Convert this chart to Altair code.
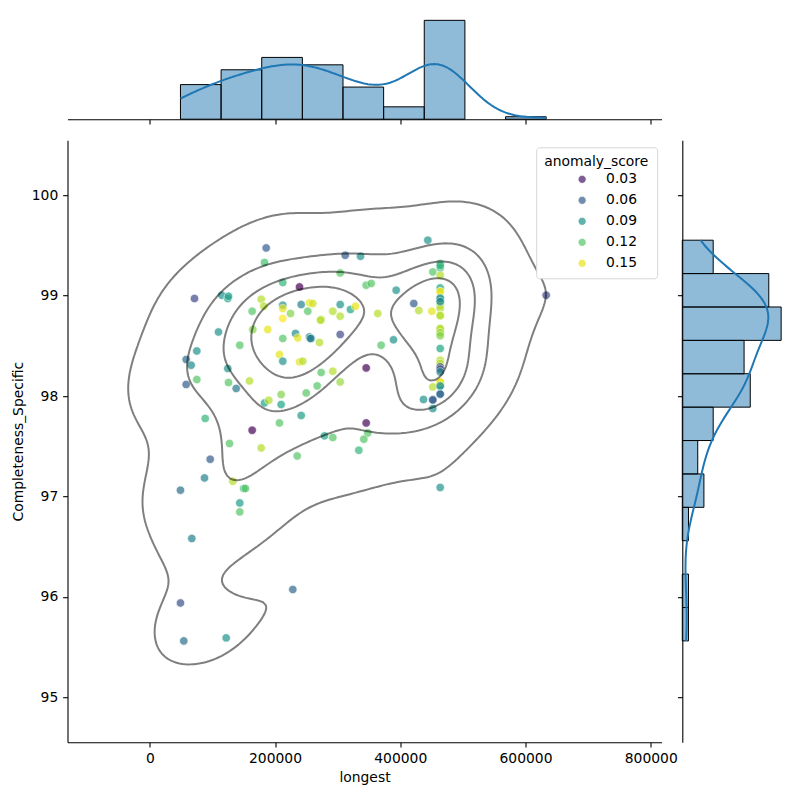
import numpy as np
import pandas as pd
import altair as alt

# ---- data -------------------------------------------------------------
longest = [
    71400, 109700, 75100, 58100, 66100, 75100, 58100, 88500, 96500, 87400, 49000, 67100, 49000, 54300,
    115000, 124600, 177900, 163500, 164500, 143700, 124600, 125700, 138000, 159200, 163500, 127300,
    177900, 132600, 150100, 152800, 143700, 143700, 122000, 125700,
    185900, 183200, 212400, 239100, 182100, 212400, 212400, 241800, 224700, 212400, 188400, 232700,
    236400, 212400, 207100, 212400, 239100, 183200, 190000, 209800, 209800, 241800, 207100, 235400, 228400,
    304100, 255000, 260300, 304100, 252300, 292300, 304100, 273700, 255000, 257800, 304100, 271000,
    244300, 273700, 292300, 304100, 249800, 267300, 279000, 292300, 256600, 272600,
    312100, 336500, 345600, 353600, 320500, 328500, 364100, 369500, 345600, 345600, 348100, 341800, 333800,
    393500, 421600, 429600, 389200, 437100,
    444000, 452000,
    463800, 463800, 463800, 463800, 463800, 463800, 463800, 463800, 463800, 463800, 463800,
    463800, 463800, 463800, 463800, 463800, 463800, 463800, 463800, 463800, 463800, 463800,
    450400, 452000, 452000, 452000,
    463800, 463800, 463800, 463800, 463800, 463800, 463800, 463800, 463800, 463800, 463800, 452000,
    633000,
]

completeness_specific = [
    98.971, 98.638, 98.449, 98.364, 98.307, 98.164, 98.115, 97.776, 97.370, 97.184, 97.062, 96.581, 95.939, 95.561,
    99.004, 98.971, 98.964, 98.845, 98.662, 98.506, 98.274, 98.134, 98.075, 98.150, 97.659, 97.527,
    97.483, 97.151, 97.079, 97.079, 96.935, 96.846, 95.591, 98.994,
    99.475, 99.330, 99.130, 99.087, 98.895, 98.904, 98.872, 98.911, 98.822, 98.772, 98.662, 98.623,
    98.579, 98.573, 98.413, 98.347, 98.340, 97.931, 97.958, 98.015, 97.915, 97.806, 97.732, 97.403, 96.073,
    99.226, 98.927, 98.921, 98.911, 98.845, 98.845, 98.795, 98.762, 98.589, 98.573, 98.613, 98.533,
    98.347, 98.234, 98.247, 98.140, 98.031, 98.101, 97.603, 97.587, 98.573, 98.755,
    99.402, 99.392, 99.104, 99.121, 98.862, 98.894, 98.822, 98.506, 98.280, 97.732, 97.632, 97.570, 97.460,
    99.054, 98.921, 98.852, 98.560, 97.965,
    99.552, 99.236,
    99.320, 99.276, 99.203, 99.077, 99.037, 98.971, 98.944, 98.904, 98.872, 98.805, 98.672,
    98.632, 98.473, 98.357, 98.324, 98.290, 98.267, 98.240, 98.140, 98.101, 98.018, 97.089,
    98.845, 98.091, 97.965, 97.875,
    99.300, 99.040, 98.975, 98.940, 98.800, 98.670, 98.630, 98.600, 98.140, 98.100, 98.020, 97.960,
    99.004,
]

anomaly_score = [
    0.050, 0.090, 0.090, 0.070, 0.085, 0.120, 0.060, 0.110, 0.060, 0.080, 0.070, 0.080, 0.055, 0.070,
    0.090, 0.100, 0.140, 0.120, 0.130, 0.120, 0.090, 0.120, 0.075, 0.140, 0.022, 0.120,
    0.140, 0.140, 0.110, 0.120, 0.095, 0.120, 0.090, 0.095,
    0.060, 0.115, 0.110, 0.021, 0.140, 0.090, 0.150, 0.080, 0.130, 0.155, 0.150, 0.085,
    0.150, 0.120, 0.150, 0.090, 0.150, 0.100, 0.140, 0.130, 0.100, 0.095, 0.120, 0.120, 0.065,
    0.120, 0.150, 0.145, 0.090, 0.120, 0.140, 0.140, 0.140, 0.080, 0.075, 0.050, 0.140,
    0.140, 0.120, 0.140, 0.135, 0.120, 0.120, 0.100, 0.120, 0.080, 0.140,
    0.060, 0.090, 0.120, 0.120, 0.100, 0.150, 0.140, 0.120, 0.022, 0.023, 0.120, 0.120, 0.110,
    0.090, 0.060, 0.140, 0.090, 0.090,
    0.090, 0.120,
    0.110, 0.110, 0.140, 0.100, 0.150, 0.090, 0.085, 0.140, 0.140, 0.140, 0.140,
    0.135, 0.100, 0.140, 0.140, 0.050, 0.055, 0.080, 0.150, 0.090, 0.065, 0.090,
    0.150, 0.140, 0.060, 0.090,
    0.110, 0.150, 0.090, 0.085, 0.140, 0.140, 0.135, 0.130, 0.150, 0.090, 0.065, 0.060,
    0.050,
]

x_ticks = [0, 200000, 400000, 600000, 800000]
y_ticks = [95, 96, 97, 98, 99, 100]
legend_values = [0.03, 0.06, 0.09, 0.12, 0.15]

# ---- layout constants -------------------------------------------------
W, H = 594, 602          # joint panel
M = 103.8                # marginal panel thickness
GAP = 20.8
X_DOMAIN = [-131400, 817200]
Y_DOMAIN = [94.552, 100.548]
FS = 13.9
BLUE = "#1f77b4"
# legend marker: unit circle drawn a little to the right of the entry origin
LEGEND_MARKER = "M 5.75 0 A 1 1 0 1 1 3.75 0 A 1 1 0 1 1 5.75 0 Z"

xs = np.asarray(longest, float)
ys = np.asarray(completeness_specific, float)
hs = np.asarray(anomaly_score, float)
n = xs.size

# ---- bivariate KDE (Scott bandwidth) and iso-proportion contours ------
factor = n ** (-1.0 / 6.0)
cov = np.cov(np.vstack([xs, ys])) * factor ** 2
inv = np.linalg.inv(cov)
bw = np.sqrt(np.diag(cov))
gx = np.linspace(xs.min() - 3 * bw[0], xs.max() + 3 * bw[0], 200)
gy = np.linspace(ys.min() - 3 * bw[1], ys.max() + 3 * bw[1], 200)
GX, GY = np.meshgrid(gx, gy)
Z = np.zeros_like(GX)
for px, py in zip(xs, ys):
    dx = GX - px
    dy = GY - py
    Z += np.exp(-0.5 * (inv[0, 0] * dx * dx + 2 * inv[0, 1] * dx * dy + inv[1, 1] * dy * dy))

props = np.linspace(0.05, 1, 5)
sorted_vals = np.sort(Z.ravel())[::-1]
cum = np.cumsum(sorted_vals) / sorted_vals.sum()
idx = np.clip(np.searchsorted(cum, 1 - props), 0, sorted_vals.size - 1)
levels = sorted_vals[idx][:-1]


def contour_chains(level):
    above = Z > level
    pts, adj = {}, {}

    def point(key):
        if key in pts:
            return
        kind, j, i = key
        if kind == "h":
            a, b = Z[j, i], Z[j, i + 1]
            t = (level - a) / (b - a)
            pts[key] = (gx[i] + t * (gx[i + 1] - gx[i]), gy[j])
        else:
            a, b = Z[j, i], Z[j + 1, i]
            t = (level - a) / (b - a)
            pts[key] = (gx[i], gy[j] + t * (gy[j + 1] - gy[j]))

    s = above[:-1, :-1].astype(int) + above[:-1, 1:] + above[1:, 1:] + above[1:, :-1]
    for j, i in np.argwhere((s > 0) & (s < 4)):
        c = [above[j, i], above[j, i + 1], above[j + 1, i + 1], above[j + 1, i]]
        edges = [("h", j, i), ("v", j, i + 1), ("h", j + 1, i), ("v", j, i)]
        cross = [edges[k] for k in range(4) if c[k] != c[(k + 1) % 4]]
        if len(cross) == 2:
            pairs = [(cross[0], cross[1])]
        else:
            centre = (Z[j, i] + Z[j, i + 1] + Z[j + 1, i + 1] + Z[j + 1, i]) / 4 > level
            if centre == c[0]:
                pairs = [(edges[0], edges[1]), (edges[2], edges[3])]
            else:
                pairs = [(edges[3], edges[0]), (edges[1], edges[2])]
        for a, b in pairs:
            point(a)
            point(b)
            adj.setdefault(a, []).append(b)
            adj.setdefault(b, []).append(a)

    seen, chains = set(), []

    def walk(start):
        chain, cur = [start], start
        seen.add(start)
        while True:
            nxt = [q for q in adj[cur] if q not in seen]
            if not nxt:
                if len(chain) > 2 and start in adj[cur]:
                    chain.append(start)
                break
            cur = nxt[0]
            chain.append(cur)
            seen.add(cur)
        return [pts[k] for k in chain]

    for k, v in adj.items():
        if len(v) == 1 and k not in seen:
            chains.append(walk(k))
    for k in adj:
        if k not in seen:
            chains.append(walk(k))
    return chains


rows = []
for li, lev in enumerate(levels):
    for ci, chain in enumerate(contour_chains(lev)):
        for k, (cx, cy) in enumerate(chain):
            rows.append({"longest": cx, "Completeness_Specific": cy, "k": k, "lid": f"{li}_{ci}"})
contours = pd.DataFrame(rows)

# ---- marginal histograms and KDE curves -------------------------------
def kde1d(v, grid):
    var = np.var(v, ddof=1) * (v.size ** (-0.2)) ** 2
    d = grid[:, None] - v[None, :]
    return np.exp(-0.5 * d * d / var).sum(1) / (v.size * np.sqrt(2 * np.pi * var))


ex = np.linspace(xs.min(), xs.max(), 9 + 1)
cx_, _ = np.histogram(xs, ex)
hist_x = pd.DataFrame({"x0": ex[:-1], "x1": ex[1:], "count": cx_})
hist_x = hist_x[hist_x["count"] > 0]
grid_x = np.linspace(xs.min(), xs.max(), 200)
kde_x = pd.DataFrame({"g": grid_x, "d": kde1d(xs, grid_x) * n * (ex[1] - ex[0])})

ey = np.linspace(ys.min(), ys.max(), 12 + 1)
cy_, _ = np.histogram(ys, ey)
hist_y = pd.DataFrame({"y0": ey[:-1], "y1": ey[1:], "count": cy_})
hist_y = hist_y[hist_y["count"] > 0]
grid_y = np.linspace(ys.min(), ys.max(), 200)
kde_y = pd.DataFrame({"g": grid_y, "d": kde1d(ys, grid_y) * n * (ey[1] - ey[0]), "i": np.arange(200)})

top_max = max(cx_.max(), kde_x["d"].max()) * 1.05
right_max = max(cy_.max(), kde_y["d"].max()) * 1.05

# ---- scales / axes ----------------------------------------------------
xsc = alt.Scale(domain=X_DOMAIN, nice=False, zero=False)
ysc = alt.Scale(domain=Y_DOMAIN, nice=False, zero=False)
main_x_axis = alt.Axis(values=x_ticks, format="d", title="longest", titlePadding=5)
main_y_axis = alt.Axis(values=y_ticks, format="d", title="Completeness_Specific", titlePadding=6)
marg_x_axis = alt.Axis(values=x_ticks, labels=False, title=None)
marg_y_axis = alt.Axis(values=y_ticks, labels=False, title=None)

points_df = pd.DataFrame({
    "longest": xs, "Completeness_Specific": ys, "anomaly_score": hs,
})

points = alt.Chart(points_df).mark_circle(
    size=72, opacity=0.7, stroke="white", strokeWidth=0.7
).encode(
    x=alt.X("longest:Q", scale=xsc, axis=main_x_axis),
    y=alt.Y("Completeness_Specific:Q", scale=ysc, axis=main_y_axis),
    color=alt.Color(
        "anomaly_score:Q",
        scale=alt.Scale(scheme="viridis", domain=[float(hs.min()), float(hs.max())]),
        legend=alt.Legend(
            type="symbol", values=legend_values, format=".2f", title="anomaly_score",
            orient="none", legendX=468.7, legendY=131.9,
            symbolType=LEGEND_MARKER, symbolSize=64, symbolOpacity=0.7,
            symbolStrokeColor="white", symbolStrokeWidth=0.7,
            labelOffset=36, rowPadding=6.0,
            padding=8, titlePadding=3.2, titleAnchor="middle",
            fillColor="white", strokeColor="#d6d6d6", cornerRadius=3,
        ),
    ),
)

contour_lines = alt.Chart(contours).mark_line(
    color="black", opacity=0.5, strokeWidth=2, strokeJoin="round"
).encode(
    x=alt.X("longest:Q", scale=xsc, axis=main_x_axis),
    y=alt.Y("Completeness_Specific:Q", scale=ysc, axis=main_y_axis),
    detail="lid:N",
    order="k:Q",
)

main = alt.layer(points, contour_lines).properties(width=W, height=H)

top_bars = alt.Chart(hist_x).mark_rect(
    fill=BLUE, fillOpacity=0.5, stroke="black", strokeWidth=1
).encode(
    x=alt.X("x0:Q", scale=xsc, axis=marg_x_axis),
    x2="x1:Q",
    y=alt.Y("count:Q", scale=alt.Scale(domain=[0, top_max], nice=False), axis=None),
    y2=alt.datum(0),
)
top_kde = alt.Chart(kde_x).mark_line(color=BLUE, strokeWidth=2).encode(
    x=alt.X("g:Q", scale=xsc, axis=marg_x_axis),
    y=alt.Y("d:Q", scale=alt.Scale(domain=[0, top_max], nice=False), axis=None),
)
top = alt.layer(top_bars, top_kde).properties(width=W, height=M)

right_bars = alt.Chart(hist_y).mark_rect(
    fill=BLUE, fillOpacity=0.5, stroke="black", strokeWidth=1
).encode(
    y=alt.Y("y0:Q", scale=ysc, axis=marg_y_axis),
    y2="y1:Q",
    x=alt.X("count:Q", scale=alt.Scale(domain=[0, right_max], nice=False), axis=None),
    x2=alt.datum(0),
)
right_kde = alt.Chart(kde_y).mark_line(color=BLUE, strokeWidth=2).encode(
    y=alt.Y("g:Q", scale=ysc, axis=marg_y_axis),
    x=alt.X("d:Q", scale=alt.Scale(domain=[0, right_max], nice=False), axis=None),
    order="i:Q",
)
right = alt.layer(right_bars, right_kde).properties(width=M, height=H)

blank = alt.Chart(pd.DataFrame({"v": [0]})).mark_point(opacity=0).encode(
    x=alt.X("v:Q", axis=None), y=alt.Y("v:Q", axis=None)
).properties(width=M, height=M)

chart = alt.concat(
    top, blank, main, right, columns=2, spacing=GAP, bounds="flush", align="each"
).properties(
    padding={"left": 10.5, "top": 15.4, "right": 5, "bottom": 5}
).configure(
    font="DejaVu Sans"
).configure_view(
    stroke=None
).configure_axis(
    labelFont="DejaVu Sans", titleFont="DejaVu Sans",
    labelFontSize=FS, titleFontSize=FS, titleFontWeight="normal",
    labelColor="black", titleColor="black",
    tickColor="black", domainColor="black",
    tickSize=4.86, tickWidth=1.1, domainWidth=1.1, labelPadding=4.9, grid=False,
).configure_legend(
    labelFont="DejaVu Sans", titleFont="DejaVu Sans",
    labelFontSize=FS, titleFontSize=FS, titleFontWeight="normal",
    labelColor="black", titleColor="black",
)

chart.save("out.html", embed_options={"renderer": "svg", "actions": False})
